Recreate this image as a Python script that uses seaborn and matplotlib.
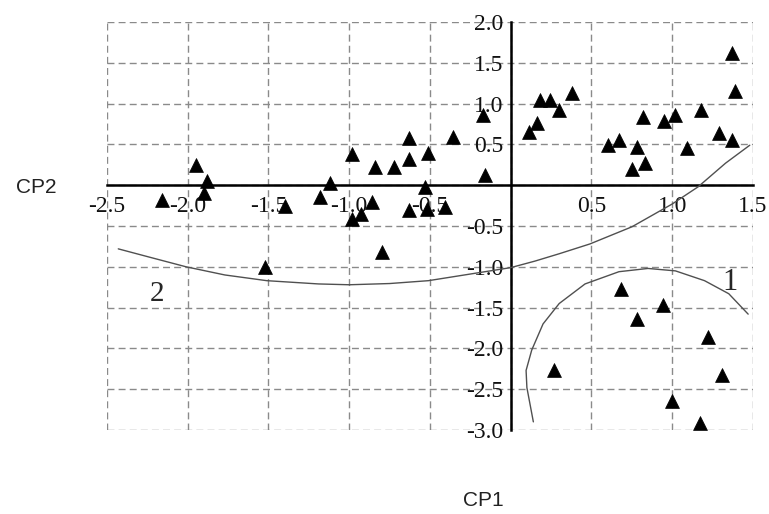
import numpy as np
import pandas as pd
import matplotlib
matplotlib.use("Agg")
import matplotlib.pyplot as plt
import seaborn as sns

# principal component scores
cp1 = [-2.16, -1.95, -1.88, -1.90, -1.52, -1.40, -1.18, -1.12,
       -0.98, -0.98, -0.93, -0.86, -0.84, -0.80, -0.72, -0.63, -0.63,
       -0.63, -0.53, -0.52, -0.51, -0.41, -0.36, -0.17, -0.16,
       0.11, 0.16, 0.18, 0.24, 0.30, 0.38,
       0.60, 0.67, 0.75, 0.78, 0.82, 0.83, 0.95, 1.02, 1.09, 1.18,
       1.29, 1.37, 1.37, 1.39,
       0.27, 0.68, 0.78, 0.94, 1.00, 1.17, 1.22, 1.31]
cp2 = [-0.18, 0.25, 0.05, -0.10, -1.00, -0.25, -0.15, 0.03,
       0.38, -0.42, -0.35, -0.20, 0.22, -0.82, 0.22, 0.58, 0.32,
       -0.30, -0.02, -0.29, 0.39, -0.27, 0.59, 0.86, 0.12,
       0.65, 0.76, 1.04, 1.05, 0.92, 1.13,
       0.49, 0.55, 0.20, 0.47, 0.84, 0.27, 0.79, 0.86, 0.45, 0.92,
       0.64, 0.55, 1.62, 1.16,
       -2.27, -1.27, -1.64, -1.47, -2.64, -2.92, -1.86, -2.33]

# hand-drawn group boundaries
curve2_x = [-2.43, -2.24, -2.01, -1.77, -1.51, -1.19, -1.00, -0.75, -0.51,
            0.00, 0.15, 0.30, 0.49, 0.75, 1.00, 1.16, 1.33, 1.48]
curve2_y = [-0.78, -0.88, -1.00, -1.10, -1.17, -1.21, -1.22, -1.205, -1.17,
            -1.01, -0.93, -0.84, -0.72, -0.51, -0.23, -0.02, 0.27, 0.49]
curve1_x = [0.14, 0.10, 0.095, 0.13, 0.20, 0.30, 0.46, 0.67, 0.85, 1.02,
            1.20, 1.35, 1.47]
curve1_y = [-2.90, -2.48, -2.27, -2.02, -1.70, -1.45, -1.21, -1.06, -1.02,
            -1.05, -1.17, -1.33, -1.58]

x_ticks = [-2.5, -2.0, -1.5, -1.0, -0.5, 0.0, 0.5, 1.0, 1.5]
y_ticks = [-3.0, -2.5, -2.0, -1.5, -1.0, -0.5, 0.0, 0.5, 1.0, 1.5, 2.0]

df = pd.DataFrame({"CP1": cp1, "CP2": cp2})

sns.set_style("white")
fig = plt.figure(figsize=(7.69, 5.14), dpi=100)
ax = fig.add_axes([0.1391, 0.1634, 0.8401, 0.7938])

sns.scatterplot(data=df, x="CP1", y="CP2", marker="^", s=100,
                color="black", edgecolor="black", linewidth=0.5, ax=ax, zorder=5)

ax.plot(curve2_x, curve2_y, color="#505050", lw=1.0, zorder=4)
ax.plot(curve1_x, curve1_y, color="#505050", lw=1.0, zorder=4)

ax.text(-2.19, -1.33, "2", fontsize=21, family="Liberation Serif",
        ha="center", va="center")
ax.text(1.36, -1.19, "1", fontsize=22, family="Liberation Serif",
        ha="center", va="center")

ax.set_xlim(-2.5, 1.5)
ax.set_ylim(-3.0, 2.0)
ax.set_xticks(x_ticks)
ax.set_yticks(y_ticks)
fmt = lambda v, p: "" if abs(v) < 1e-9 else f"{v:.1f}"
ax.xaxis.set_major_formatter(plt.FuncFormatter(fmt))
ax.yaxis.set_major_formatter(plt.FuncFormatter(fmt))

ax.grid(True, ls=(0, (5, 3)), color="#8a8a8a", lw=1.0)
for gl in ax.get_xgridlines() + ax.get_ygridlines():
    gl.set_clip_on(False)

ax.spines["left"].set_position(("data", 0))
ax.spines["bottom"].set_position(("data", 0))
for s in ["left", "bottom"]:
    ax.spines[s].set_linewidth(1.8)
    ax.spines[s].set_color("black")
    ax.spines[s].set_zorder(3)
for s in ["top", "right"]:
    ax.spines[s].set_visible(False)

ax.tick_params(axis="both", direction="inout", length=13, width=1.8,
               color="black", labelsize=17, labelcolor="#111111")
ax.tick_params(axis="x", pad=1)
ax.tick_params(axis="y", pad=-1)
for lab in ax.get_xticklabels() + ax.get_yticklabels():
    lab.set_family("Liberation Serif")

ax.set_xlabel("")
ax.set_ylabel("")
fig.text(0.047, 0.636, "CP2", fontsize=15, family="Liberation Sans",
         ha="center", va="center", color="#222222")
fig.text(0.628, 0.027, "CP1", fontsize=15, family="Liberation Sans",
         ha="center", va="center", color="#222222")

fig.savefig("out.png", dpi=100)
